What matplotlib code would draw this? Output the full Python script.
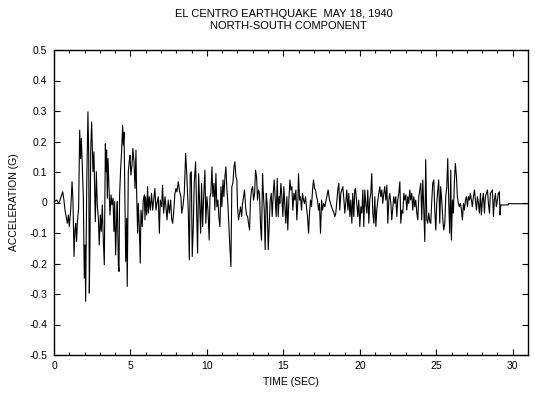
import numpy as np
import matplotlib
matplotlib.use('Agg')
import matplotlib.pyplot as plt
from matplotlib.ticker import MultipleLocator

plt.rcParams['font.family'] = ['Liberation Sans', 'DejaVu Sans']

# acceleration trace, split in ~5 s pieces (time in s, accel in g)
t_seg1 = [0.00, 0.18, 0.31, 0.39, 0.50, 0.57, 0.65, 0.72, 0.79, 0.87,
          0.94, 1.00, 1.09, 1.18, 1.24, 1.31, 1.37, 1.42, 1.48, 1.53,
          1.61, 1.68, 1.74, 1.79, 1.85, 1.92, 1.98, 2.03, 2.07, 2.14,
          2.22, 2.27, 2.31, 2.35, 2.40, 2.46, 2.51, 2.55, 2.61, 2.66,
          2.70, 2.77, 2.83, 2.90, 2.96, 3.03, 3.09, 3.16, 3.22, 3.29,
          3.36, 3.40, 3.44, 3.49, 3.53, 3.60, 3.66, 3.73, 3.79, 3.86,
          3.92, 3.97, 4.03, 4.10, 4.14, 4.21, 4.25, 4.29, 4.36, 4.42,
          4.49, 4.53, 4.58, 4.62, 4.69, 4.75, 4.79, 4.86, 4.92, 4.97,
          5.03, 5.10, 5.16, 5.23, 5.30]
a_seg1 = [0.003, 0.008, -0.003, 0.008, 0.025, 0.035, 0.008, -0.025, -0.046, -0.068,
          -0.041, -0.079, -0.025, 0.068, 0.008, -0.177, -0.090, -0.068, -0.128, -0.063,
          -0.019, 0.237, 0.144, 0.210, 0.123, 0.014, -0.248, -0.139, -0.324, 0.057,
          0.297, 0.155, -0.297, -0.150, 0.166, 0.264, 0.177, 0.101, 0.166, 0.035,
          -0.063, 0.101, -0.008, -0.052, -0.139, -0.041, -0.095, -0.008, -0.117, -0.204,
          0.193, 0.101, 0.172, 0.014, 0.144, 0.046, -0.041, 0.025, -0.008, 0.014,
          -0.095, 0.003, -0.172, -0.041, 0.003, -0.204, -0.226, 0.025, 0.112, 0.166,
          0.253, 0.188, 0.231, 0.068, -0.193, -0.052, -0.275, 0.101, 0.134, 0.155,
          0.090, 0.123, 0.177, 0.134, 0.046]

t_seg2 = [5.36, 5.40, 5.47, 5.51, 5.58, 5.64, 5.69, 5.77, 5.84, 5.91,
          5.95, 5.99, 6.06, 6.12, 6.17, 6.23, 6.30, 6.38, 6.45, 6.52,
          6.60, 6.67, 6.73, 6.82, 6.89, 6.95, 7.04, 7.10, 7.17, 7.26,
          7.32, 7.39, 7.47, 7.54, 7.63, 7.69, 7.76, 7.82, 7.91, 7.98,
          8.04, 8.13, 8.22, 8.30, 8.35, 8.43, 8.52, 8.61, 8.67, 8.78,
          8.85, 8.91, 8.98, 9.04, 9.11, 9.17, 9.26, 9.33, 9.39, 9.46,
          9.52, 9.59, 9.65, 9.72, 9.78, 9.87]
a_seg2 = [0.172, 0.041, -0.101, -0.003, -0.079, -0.199, -0.025, -0.079, 0.008, 0.025,
          -0.057, 0.019, -0.041, 0.052, -0.035, 0.019, -0.025, 0.030, -0.025, 0.008,
          0.046, -0.025, -0.003, 0.019, -0.101, 0.008, -0.014, 0.057, -0.035, 0.019,
          -0.014, -0.057, 0.008, -0.035, 0.008, -0.052, -0.068, -0.035, 0.030, 0.046,
          0.035, 0.068, 0.035, 0.019, -0.035, -0.014, 0.030, 0.161, 0.106, -0.025,
          -0.188, 0.095, 0.101, -0.177, -0.079, 0.063, 0.133, -0.035, -0.166, 0.095,
          0.008, -0.101, 0.063, -0.079, 0.008, 0.106]

t_seg3 = [9.93, 10.00, 10.07, 10.15, 10.20, 10.26, 10.33, 10.39, 10.46, 10.52,
          10.59, 10.65, 10.72, 10.78, 10.85, 10.92, 10.98, 11.05, 11.11, 11.18,
          11.24, 11.31, 11.37, 11.44, 11.50, 11.57, 11.63, 11.70, 11.77, 11.83,
          11.90, 11.96, 12.00, 12.07, 12.14, 12.20, 12.27, 12.33, 12.40, 12.46,
          12.53, 12.59, 12.66, 12.72, 12.79, 12.85, 12.92, 12.99, 13.05, 13.12,
          13.18, 13.25, 13.31, 13.38, 13.44, 13.51, 13.57, 13.64, 13.68, 13.75,
          13.81, 13.88, 13.94, 14.01, 14.07, 14.14, 14.21, 14.27, 14.34, 14.40,
          14.47, 14.53, 14.60, 14.66, 14.73]
a_seg3 = [-0.068, 0.019, -0.025, -0.123, 0.019, 0.030, 0.117, 0.019, 0.063, -0.025,
          0.095, -0.014, 0.008, -0.046, -0.079, 0.052, -0.014, 0.074, 0.019, 0.084,
          0.117, 0.041, -0.003, -0.079, -0.144, -0.210, 0.052, 0.063, 0.117, 0.133,
          0.084, 0.074, -0.014, -0.057, -0.035, -0.014, -0.046, -0.003, 0.019, 0.041,
          -0.014, -0.041, -0.046, -0.068, -0.090, 0.008, 0.041, 0.052, 0.008, 0.030,
          0.106, 0.084, 0.008, 0.041, 0.030, -0.079, -0.123, 0.095, 0.041, -0.025,
          -0.155, 0.030, -0.003, -0.155, -0.079, 0.008, 0.030, -0.046, 0.030, 0.074,
          0.008, -0.046, 0.079, -0.046, 0.019]

t_seg4 = [14.77, 14.84, 14.90, 14.97, 15.03, 15.10, 15.16, 15.23, 15.29, 15.36,
          15.43, 15.49, 15.56, 15.62, 15.69, 15.75, 15.82, 15.88, 15.95, 15.99,
          16.06, 16.12, 16.19, 16.25, 16.32, 16.38, 16.45, 16.51, 16.58, 16.65,
          16.71, 16.78, 16.84, 16.91, 16.97, 17.04, 17.10, 17.17, 17.23, 17.30,
          17.36, 17.43, 17.50, 17.56, 17.63, 17.71, 17.82, 17.93, 18.02, 18.15,
          18.28, 18.37, 18.43, 18.50, 18.56, 18.63, 18.69, 18.76, 18.82, 18.89,
          18.96, 19.02, 19.09, 19.15, 19.22, 19.28, 19.35, 19.41, 19.48, 19.54,
          19.61]
a_seg4 = [-0.003, 0.063, 0.019, -0.046, 0.052, -0.014, -0.068, 0.019, -0.090, 0.008,
          0.074, 0.041, 0.052, -0.025, 0.030, 0.008, 0.041, -0.057, 0.008, 0.095,
          0.008, 0.019, -0.025, 0.030, 0.008, -0.003, 0.019, -0.014, -0.046, -0.101,
          -0.035, 0.008, -0.014, 0.041, 0.074, 0.046, 0.041, 0.019, 0.008, -0.025,
          -0.003, -0.101, 0.008, -0.025, -0.003, -0.014, 0.014, 0.041, 0.008, -0.014,
          -0.030, -0.046, -0.035, 0.008, 0.041, 0.063, -0.025, 0.030, 0.041, 0.052,
          0.008, -0.035, 0.008, 0.041, -0.025, 0.030, -0.046, 0.008, -0.068, 0.030,
          -0.046]

t_seg5 = [19.67, 19.72, 19.80, 19.87, 19.93, 20.00, 20.07, 20.13, 20.20, 20.26,
          20.33, 20.39, 20.46, 20.52, 20.59, 20.65, 20.72, 20.78, 20.85, 20.92,
          20.98, 21.05, 21.11, 21.18, 21.24, 21.31, 21.37, 21.44, 21.50, 21.57,
          21.63, 21.70, 21.77, 21.83, 21.90, 21.96, 22.03, 22.09, 22.16, 22.22,
          22.29, 22.35, 22.42, 22.48, 22.55, 22.62, 22.68, 22.75, 22.81, 22.88,
          22.94, 23.01, 23.07, 23.14, 23.20, 23.27, 23.33, 23.40, 23.46, 23.53,
          23.60, 23.66, 23.73, 23.79, 23.86, 23.92, 23.99, 24.05, 24.12, 24.18,
          24.25, 24.31]
a_seg5 = [0.041, 0.046, -0.003, -0.046, 0.008, -0.079, -0.014, -0.035, 0.041, -0.079,
          0.041, -0.003, -0.035, 0.041, -0.068, 0.008, 0.030, 0.095, -0.035, -0.068,
          0.019, -0.079, -0.025, 0.008, 0.030, 0.052, 0.019, 0.041, -0.003, 0.030,
          0.052, 0.008, 0.057, -0.068, 0.008, 0.030, -0.003, -0.057, -0.014, 0.019,
          -0.003, 0.019, -0.046, 0.008, 0.030, 0.068, -0.068, -0.025, -0.035, 0.030,
          0.008, 0.025, -0.025, 0.019, -0.003, 0.041, 0.008, 0.030, -0.025, 0.019,
          -0.014, 0.008, -0.035, -0.057, 0.019, 0.041, 0.063, -0.057, 0.074, -0.014,
          -0.128, 0.140]

t_seg6 = [24.38, 24.44, 24.51, 24.58, 24.64, 24.71, 24.77, 24.84, 24.90, 24.97,
          25.03, 25.10, 25.16, 25.23, 25.29, 25.36, 25.43, 25.49, 25.56, 25.62,
          25.69, 25.75, 25.82, 25.88, 25.95, 25.99, 26.06, 26.12, 26.19, 26.25,
          26.32, 26.38, 26.45, 26.51, 26.58, 26.65, 26.71, 26.78, 26.84, 26.91,
          26.97, 27.04, 27.10, 27.17, 27.23, 27.30, 27.36, 27.43, 27.50, 27.56,
          27.63, 27.69, 27.76, 27.82, 27.89, 27.95, 28.02, 28.08, 28.15, 28.21,
          28.35, 28.41, 28.48, 28.54, 28.67, 28.74, 28.80, 28.87, 28.93, 29.00,
          29.06, 29.13, 29.17, 29.22, 29.70, 29.72, 31.00]
a_seg6 = [-0.057, -0.068, -0.035, -0.063, -0.068, 0.008, 0.063, 0.074, -0.025, -0.090,
          -0.003, 0.041, 0.074, -0.068, 0.052, 0.008, -0.057, -0.090, -0.068, 0.019,
          0.052, 0.144, -0.003, -0.101, 0.106, -0.123, 0.008, -0.035, 0.074, 0.128,
          0.084, 0.019, -0.003, -0.014, -0.003, -0.025, -0.057, -0.003, -0.025, 0.008,
          0.019, -0.014, 0.019, 0.008, 0.030, 0.008, -0.014, 0.019, 0.041, 0.008,
          -0.025, 0.019, -0.003, -0.035, 0.030, -0.041, 0.008, 0.030, -0.035, 0.019,
          0.041, -0.003, -0.035, 0.030, 0.041, -0.046, 0.008, 0.030, -0.014, 0.008,
          0.030, 0.035, -0.041, -0.008, -0.008, -0.004, -0.004]

x_ticks = [0, 5, 10, 15, 20, 25, 30]
y_ticks = [-0.5, -0.4, -0.3, -0.2, -0.1, 0.0, 0.1, 0.2, 0.3, 0.4, 0.5]
y_labels = ['-0.5', '-0.4', '-0.3', '-0.2', '-0.1', '0', '0.1', '0.2', '0.3', '0.4', '0.5']

time = np.concatenate([t_seg1, t_seg2, t_seg3, t_seg4, t_seg5, t_seg6])
accel = np.concatenate([a_seg1, a_seg2, a_seg3, a_seg4, a_seg5, a_seg6])

fig = plt.figure(figsize=(5.35, 4.0), dpi=100)
ax = fig.add_axes([54/535, 1 - 355/400, (528 - 54)/535, (355 - 50)/400])
ax.plot(time, accel, color='black', lw=0.8)

ax.set_xlim(0, 31)
ax.set_ylim(-0.5, 0.5)
ax.set_xticks(x_ticks)
ax.set_xticklabels([str(v) for v in x_ticks])
ax.xaxis.set_minor_locator(MultipleLocator(1))
ax.set_yticks(y_ticks)
ax.set_yticklabels(y_labels)
ax.tick_params(which='both', direction='in', top=True, right=True, labelsize=7.5, width=0.8)
ax.tick_params(which='major', length=4)
ax.tick_params(which='minor', length=2.5)
ax.tick_params(axis='y', pad=5)
ax.tick_params(axis='x', pad=4)
for sp in ax.spines.values():
    sp.set_linewidth(1.0)

fig.text(284/535, 1 - 14/400, 'EL CENTRO EARTHQUAKE  MAY 18, 1940', ha='center', va='center', fontsize=8)
fig.text(288/535, 1 - 26/400, 'NORTH-SOUTH COMPONENT', ha='center', va='center', fontsize=8)
fig.text(291/535, 1 - 382/400, 'TIME (SEC)', ha='center', va='center', fontsize=7.5)
fig.text(14/535, 1 - 202/400, 'ACCELERATION (G)', ha='center', va='center', rotation=90, fontsize=7.5)

fig.savefig('out.png', dpi=100)
